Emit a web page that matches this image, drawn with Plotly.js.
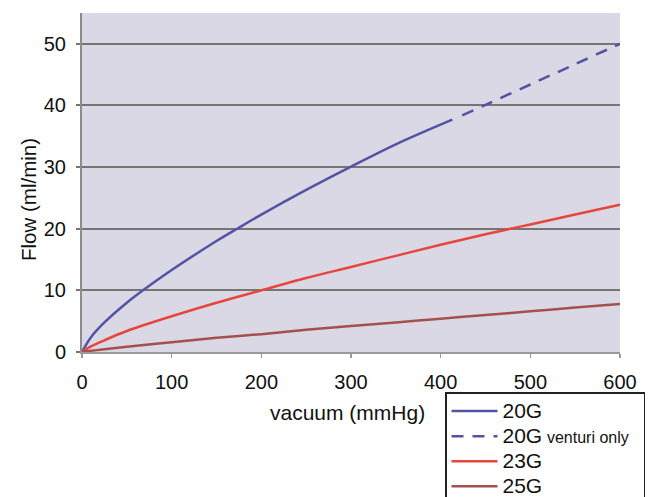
<!DOCTYPE html>
<html>
<head>
<meta charset="utf-8">
<script src="https://cdn.plot.ly/plotly-3.0.1.min.js"></script>
<style>html,body{margin:0;padding:0;background:#fff;}#chart{width:652px;height:497px;}</style>
</head>
<body>
<div id="chart"></div>
<script>
// Vacuum (mmHg) and flow (ml/min)
const vac20 = [0, 10, 25, 50, 68, 100, 150, 173, 200, 250, 299, 350, 413];
const flow20 = [0, 2.4, 4.8, 8.0, 10, 13.3, 18.0, 20, 22.3, 26.3, 30, 33.7, 37.7];
const vac20v = [424, 450, 500, 550, 600];
const flow20v = [38.4, 40.1, 43.4, 46.7, 50];
const vac23 = [0, 10, 25, 50, 100, 150, 200, 250, 300, 350, 400, 450, 500, 550, 600];
const flow23 = [0, 0.9, 1.9, 3.4, 5.8, 8.0, 10.0, 12.0, 13.8, 15.6, 17.4, 19.1, 20.7, 22.3, 23.9];
const vac25 = [0, 10, 25, 50, 100, 150, 200, 250, 300, 350, 400, 450, 500, 550, 600];
const flow25 = [0, 0.2, 0.45, 0.85, 1.6, 2.3, 2.9, 3.6, 4.2, 4.8, 5.4, 6.0, 6.6, 7.2, 7.8];
const seriesNames = ['<span style="font-size:21px">20G</span>',
  '<span style="font-size:21px">20G</span> <span style="font-size:16px">venturi only</span>&nbsp;&nbsp;',
  '<span style="font-size:21px">23G</span>',
  '<span style="font-size:21px">25G</span>'];
const xTicks = [0, 100, 200, 300, 400, 500, 600];
const yTicks = [0, 10, 20, 30, 40, 50];

const blue = '#5353a3', red = '#e6463c', brown = '#a5504e';
const traces = [
  {x: vac20, y: flow20, name: seriesNames[0], mode: 'lines', line: {color: blue, width: 2.5, shape: 'spline'}},
  {x: vac20v, y: flow20v, name: seriesNames[1], mode: 'lines', line: {color: blue, width: 2.5, dash: '12px,9px', shape: 'spline'}},
  {x: vac23, y: flow23, name: seriesNames[2], mode: 'lines', line: {color: red, width: 2.5, shape: 'spline'}},
  {x: vac25, y: flow25, name: seriesNames[3], mode: 'lines', line: {color: brown, width: 2.5, shape: 'spline'}}
];
const fam = '"Liberation Sans", Arial, sans-serif';
const layout = {
  width: 652, height: 497,
  margin: {l: 82, r: 32, t: 13, b: 145, autoexpand: false},
  paper_bgcolor: '#ffffff',
  plot_bgcolor: '#dad8e5',
  font: {family: fam, size: 20, color: '#111'},
  showlegend: true,
  legend: {
    x: (445 - 82) / 538, y: (352 - 392) / 339, xanchor: 'left', yanchor: 'top',
    bgcolor: '#ffffff', bordercolor: '#222', borderwidth: 1.5,
    font: {family: fam, size: 17, color: '#111'},
    itemwidth: 46
  },
  xaxis: {
    range: [0, 600], tickvals: xTicks, ticktext: xTicks.map(String),
    showgrid: false, zeroline: false,
    showline: true, linecolor: '#9a9a9a', linewidth: 1.5,
    ticks: 'outside', ticklen: 4, tickcolor: '#9a9a9a', tickwidth: 1.5,
    ticklabelstandoff: 7,
    tickfont: {family: fam, size: 20, color: '#111'},
    fixedrange: true
  },
  yaxis: {
    range: [0, 55], tickvals: yTicks, ticktext: yTicks.map(String),
    showgrid: true, gridcolor: '#757575', gridwidth: 2,
    zeroline: false,
    showline: true, linecolor: '#8c8c8c', linewidth: 2,
    ticks: 'outside', ticklen: 4, tickcolor: '#757575', tickwidth: 2,
    ticklabelstandoff: 6,
    tickfont: {family: fam, size: 20, color: '#111'},
    fixedrange: true
  },
  annotations: [
    {text: 'Flow (ml/min)', xref: 'paper', yref: 'paper', x: (28 - 82) / 538, y: (352 - 200) / 339,
     xanchor: 'center', yanchor: 'middle', textangle: -90, showarrow: false,
     font: {family: fam, size: 20.5, color: '#111'}},
    {text: 'vacuum (mmHg)', xref: 'paper', yref: 'paper', x: (347 - 82) / 538, y: (352 - 412) / 339,
     xanchor: 'center', yanchor: 'middle', showarrow: false,
     font: {family: fam, size: 21, color: '#111'}}
  ]
};
Plotly.newPlot('chart', traces, layout, {displayModeBar: false, staticPlot: true});
</script>
</body>
</html>
